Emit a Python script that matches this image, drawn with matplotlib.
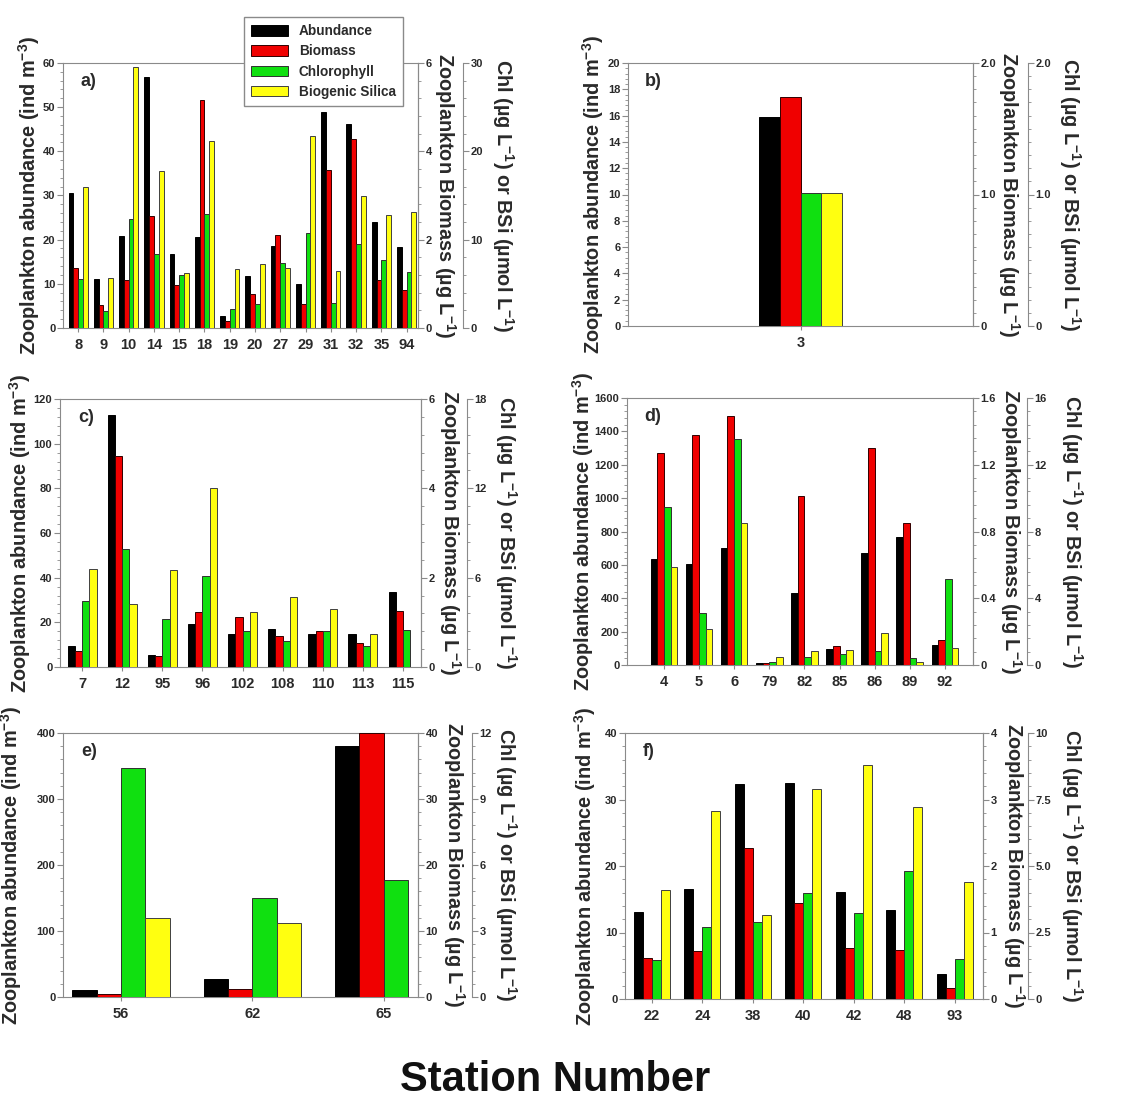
import matplotlib
matplotlib.use('Agg')
import matplotlib.pyplot as plt
import numpy as np
from matplotlib.ticker import AutoMinorLocator, FixedLocator, FuncFormatter
from matplotlib.patches import Patch

plt.rcParams['font.family'] = ['Liberation Sans', 'DejaVu Sans']
plt.rcParams['font.weight'] = 'bold'
plt.rcParams['mathtext.fontset'] = 'custom'
plt.rcParams['mathtext.rm'] = 'Liberation Sans:bold'
plt.rcParams['mathtext.bf'] = 'Liberation Sans:bold'
plt.rcParams['mathtext.default'] = 'bf'

nan = np.nan

# panel a
st_a = ['8', '9', '10', '14', '15', '18', '19', '20', '27', '29', '31', '32', '35', '94']
abund_a = [30.6, 11.1, 20.9, 56.8, 16.8, 20.6, 2.8, 11.8, 18.5, 9.9, 48.9, 46.3, 24.1, 18.3]
biom_a = [1.36, 0.51, 1.08, 2.53, 0.97, 5.17, 0.15, 0.78, 2.11, 0.54, 3.57, 4.29, 1.08, 0.85]
chl_a = [5.5, 1.9, 12.3, 8.4, 6.0, 12.9, 2.1, 2.7, 7.4, 10.8, 2.8, 9.5, 7.7, 6.3]
bsi_a = [16.0, 5.7, 29.5, 17.8, 6.2, 21.2, 6.7, 7.3, 6.8, 21.7, 6.4, 14.9, 12.8, 13.1]

# panel b
st_b = ['3']
abund_b = [15.9]
biom_b = [1.74]
chl_b = [1.01]
bsi_b = [1.01]

# panel c
st_c = ['7', '12', '95', '96', '102', '108', '110', '113', '115']
abund_c = [9.3, 113, 5.2, 19.4, 14.8, 17.0, 15.0, 14.9, 33.6]
biom_c = [0.35, 4.73, 0.25, 1.23, 1.13, 0.69, 0.80, 0.54, 1.25]
chl_c = [4.45, 7.9, 3.25, 6.1, 2.4, 1.77, 2.4, 1.4, 2.5]
bsi_c = [6.6, 4.2, 6.5, 12.0, 3.7, 4.7, 3.9, 2.2, nan]

# panel d
st_d = ['4', '5', '6', '79', '82', '85', '86', '89', '92']
abund_d = [634, 606, 704, 10, 430, 94, 670, 766, 122]
biom_d = [1.27, 1.38, 1.49, 0.014, 1.01, 0.116, 1.30, 0.85, 0.15]
chl_d = [9.46, 3.1, 13.56, 0.2, 0.5, 0.64, 0.84, 0.44, 5.14]
bsi_d = [5.86, 2.14, 8.5, 0.46, 0.84, 0.88, 1.9, 0.2, 1.0]

# panel e
st_e = ['56', '62', '65']
abund_e = [10, 27, 381]
biom_e = [0.5, 1.27, 40]
chl_e = [10.4, 4.5, 5.3]
bsi_e = [3.57, 3.37, nan]

# panel f
st_f = ['22', '24', '38', '40', '42', '48', '93']
abund_f = [13.1, 16.6, 32.3, 32.5, 16.1, 13.4, 3.8]
biom_f = [0.62, 0.72, 2.27, 1.44, 0.77, 0.73, 0.165]
chl_f = [1.48, 2.7, 2.88, 3.98, 3.23, 4.82, 1.52]
bsi_f = [4.1, 7.08, 3.17, 7.9, 8.8, 7.2, 4.4]

series_names = ['Abundance', 'Biomass', 'Chlorophyll', 'Biogenic Silica']
colors = ['#000000', '#f00000', '#10e010', '#ffff10']
edges = ['#000000', '#300000', '#303030', '#404040']
spine_col = '#8a8a8a'
txt_col = '#2a2a2a'

W, H = 1136, 1100
fig = plt.figure(figsize=(W / 100, H / 100), dpi=100)

lab_left = 'Zooplankton abundance (ind m$^{-3}$)'
lab_right = 'Zooplankton Biomass (\u00b5g L$^{-1}$)'
lab_third = 'Chl (\u00b5g L$^{-1}$) or BSi (\u00b5mol L$^{-1}$)'


def make_fmt(fmt):
    def f(v, pos):
        if abs(v) < 1e-9:
            return '0'
        if v >= 10:
            return '%g' % v
        return fmt % v
    return FuncFormatter(f)


panels = [
    dict(tag='a)', st=st_a, d=(abund_a, biom_a, chl_a, bsi_a), box=(63, 418, 63, 328), xl=(-0.6, 13.45), w=0.19,
         ylims=(60, 6, 30), steps=(10, 2, 10), fmt=('%g', '%g', '%g'), off=45, lab=(-34, 27, 85), mn=(5, 5, 5)),
    dict(tag='b)', st=st_b, d=(abund_b, biom_b, chl_b, bsi_b), box=(628, 973, 63, 326), xl=(-0.5, 0.5), w=0.06,
         ylims=(20, 2, 2), steps=(2, 1, 1), fmt=('%g', '%.1f', '%.1f'), off=55, lab=(-35, 36, 97), mn=(5, 10, 10)),
    dict(tag='c)', st=st_c, d=(abund_c, biom_c, chl_c, bsi_c), box=(60, 421, 399, 667), xl=(-0.55, 8.45), w=0.18,
         ylims=(120, 6, 18), steps=(20, 2, 6), fmt=('%g', '%g', '%g'), off=46, lab=(-40, 29, 85), mn=(5, 5, 5)),
    dict(tag='d)', st=st_d, d=(abund_d, biom_d, chl_d, bsi_d), box=(627, 973, 398, 665), xl=(-1.05, 8.8), w=0.19,
         ylims=(1600, 1.6, 16), steps=(200, 0.4, 4), fmt=('%g', '%.1f', '%g'), off=54, lab=(-44, 38, 99), mn=(5, 5, 5)),
    dict(tag='e)', st=st_e, d=(abund_e, biom_e, chl_e, bsi_e), box=(63, 418, 733, 997), xl=(-0.44, 2.26), w=0.185,
         ylims=(400, 40, 12), steps=(100, 10, 3), fmt=('%g', '%g', '%g'), off=54, lab=(-52, 36, 88), mn=(5, 5, 5)),
    dict(tag='f)', st=st_f, d=(abund_f, biom_f, chl_f, bsi_f), box=(625, 983, 733, 999), xl=(-0.53, 6.56), w=0.18,
         ylims=(40, 4, 10), steps=(10, 1, 2.5), fmt=('%g', '%g', '%.1f'), off=45, lab=(-40, 31, 89), mn=(5, 5, 5)),
]

for p in panels:
    l, r, t, b = p['box']
    ax = fig.add_axes([l / W, 1 - b / H, (r - l) / W, (b - t) / H])
    ax2 = ax.twinx()
    ax3 = ax.twinx()
    wpx = r - l
    x = np.arange(len(p['st']))
    w = p['w']
    abund, biom, chl, bsi = p['d']
    targets = [ax, ax2, ax3, ax3]
    for i, (vals, axx) in enumerate(zip((abund, biom, chl, bsi), targets)):
        axx.bar(x + (i - 1.5) * w, vals, w, color=colors[i], edgecolor=edges[i], linewidth=0.7, zorder=3)

    ax.set_xlim(*p['xl'])
    ax.set_xticks(x)
    ax.set_xticklabels(p['st'], fontsize=10.5, fontweight='bold', color=txt_col)
    ax.tick_params(axis='x', length=3, color=spine_col, pad=4)

    for axx, top, step, fmt, mn in zip((ax, ax2, ax3), p['ylims'], p['steps'], p['fmt'], p['mn']):
        ticks = np.arange(0, top + step * 0.01, step)
        axx.yaxis.set_major_locator(FixedLocator(ticks))
        axx.yaxis.set_minor_locator(AutoMinorLocator(mn))
        axx.yaxis.set_major_formatter(make_fmt(fmt))
        axx.set_ylim(0, top)
        axx.tick_params(axis='y', which='major', length=4, width=0.8, color=spine_col,
                        labelsize=8, labelcolor=txt_col, pad=1.5)
        axx.tick_params(axis='y', which='minor', length=2, width=0.6, color=spine_col)
        for lbl in axx.get_yticklabels():
            lbl.set_fontweight('bold')

    for s in ax.spines.values():
        s.set_color(spine_col)
    for s in ('top', 'left', 'bottom'):
        ax2.spines[s].set_visible(False)
        ax3.spines[s].set_visible(False)
    ax2.spines['right'].set_color(spine_col)
    ax3.spines['right'].set_color(spine_col)
    # outward offset is in points
    ax3.spines['right'].set_position(('outward', p['off'] * 0.72))

    ax.text(0.05, 0.93, p['tag'], transform=ax.transAxes, fontsize=13, fontweight='bold',
            color=txt_col, ha='left', va='center')

    ll, lr, lt = p['lab']
    ax.set_ylabel(lab_left, fontsize=14.3, fontweight='bold', color=txt_col, va='center')
    ax.yaxis.set_label_coords(ll / wpx, 0.5)
    ax2.set_ylabel(lab_right, fontsize=14.3, fontweight='bold', color=txt_col, rotation=-90, va='center')
    ax2.yaxis.set_label_coords(1 + lr / wpx, 0.5)
    ax3.set_ylabel(lab_third, fontsize=14.3, fontweight='bold', color=txt_col, rotation=-90, va='center')
    ax3.yaxis.set_label_coords(1 + lt / wpx, 0.5)

handles = [Patch(facecolor=c, edgecolor=e, linewidth=0.7) for c, e in zip(colors, edges)]
leg = fig.legend(handles, series_names, loc='upper left', bbox_to_anchor=(237 / W, 1 - 10 / H),
                 bbox_transform=fig.transFigure, fancybox=False, framealpha=1, edgecolor=spine_col,
                 prop={'weight': 'bold', 'size': 9.8}, handlelength=2.7, handleheight=0.8,
                 labelspacing=0.45, borderpad=0.55, handletextpad=0.8)
for t in leg.get_texts():
    t.set_color(txt_col)

fig.text(555 / W, 1 - 1080 / H, 'Station Number', ha='center', va='center', fontsize=30,
         fontweight='bold', color='#111111')

fig.savefig('out.png', dpi=100)
